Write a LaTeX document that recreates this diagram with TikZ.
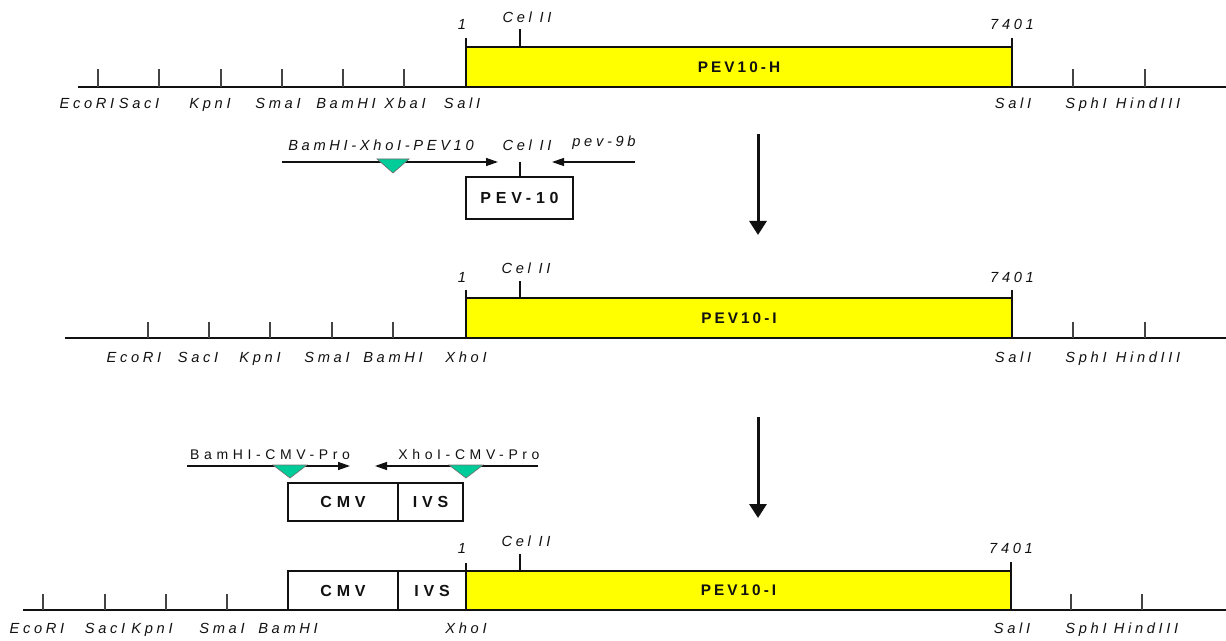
\documentclass[tikz,border=0pt]{standalone}
\usepackage{fontspec}
\setmainfont{Liberation Sans}
\usetikzlibrary{positioning,calc,arrows.meta}
\definecolor{gene}{HTML}{FFFF00}
\definecolor{tag}{HTML}{00CC99}
\definecolor{ink}{HTML}{111111}
\definecolor{tickgray}{HTML}{444444}
\newcommand{\Ya}{87}
\newcommand{\Yb}{338}
\newcommand{\Yc}{610}
\newcommand{\Xs}{466}
\newcommand{\Xe}{1012}
\newcommand{\Xc}{520}
\newcommand{\sitefont}{\fontsize{11}{13}\selectfont\itshape\addfontfeatures{LetterSpace=25}}
\newcommand{\boxfont}{\fontsize{12}{14}\selectfont\bfseries\addfontfeatures{LetterSpace=30}}
\newcommand{\genefont}{\fontsize{11.5}{14}\selectfont\bfseries\addfontfeatures{LetterSpace=20}}
\newcommand{\primfont}{\fontsize{10.5}{12}\selectfont\addfontfeatures{LetterSpace=33}}

\begin{document}
\begin{tikzpicture}[x=0.75pt,y=-0.75pt, every node/.style={text=ink, inner sep=0pt}, line width=1pt, >={Triangle[length=9pt,width=6pt]},
  mapline/.style={draw=ink},
  cut/.style={draw=tickgray},
  site/.style={font=\sitefont, anchor=base},
  genebox/.style={draw=ink, fill=gene},
  plainbox/.style={draw=ink, fill=white},
  boxlbl/.style={font=\boxfont},
  genelbl/.style={font=\genefont},
  tagmark/.style={draw=ink!60, line width=0.5pt, fill=tag},
  primer/.style={draw=ink, ->},
  bigarrow/.style={draw=ink, line width=2.25pt, -{Triangle[length=10.5pt,width=12.75pt]}}]
\useasboundingbox (0,0) rectangle (1226,641);
% ---- ROW 1: PEV10-H cloned between the two SalI sites
\coordinate (r1w) at (78,\Ya); \coordinate (r1e) at (1226,\Ya);
\draw[mapline] (r1w) -- (r1e);
\foreach \x in {98,159,221,282,343,404,1073,1145} { \draw[cut] (\x,\Ya) -- (\x,\Ya-18); }
\draw[genebox] (\Xs,47) rectangle node[genelbl] (pevh) {PEV10-H} (\Xe,\Ya);
\draw[ink] (\Xs,47) -- (\Xs,38);
\draw[ink] (\Xc,47) -- (\Xc,29);
\draw[ink] (\Xe,47) -- (\Xe,38);
\node[site] (one1) at (462,30) {1};
\node[site] (cel1) at (527,23) {Cel II};
\node[site] (end1) at (\Xe,30) {7401};
\foreach \x/\t in {87/EcoRI,139/SacI,210/KpnI,278/SmaI,346/BamHI,405/XbaI,462/SalI,1013/SalI,1086/SphI,1148/HindIII}
  { \node[site] (a\t) at (\x,109) {\t}; }
% ---- PCR step 1: primers round the 5' end of PEV10
\coordinate (p1s) at (282,162); \coordinate (p1e) at (498,162);
\coordinate (p2s) at (635,162); \coordinate (p2e) at (552,162);
\draw[primer] (p1s) -- (p1e);
\draw[primer] (p2s) -- (p2e);
\draw[tagmark] (377,159) -- (409,159) -- (393,173) -- cycle;
\node[site] (pbx) at (381,151) {BamHI-XhoI-PEV10};
\node[site] (p9b) at (604,147) {pev-9b};
\node[site] (celp) at (527,151) {Cel II};
\draw[plainbox] (\Xs,177) rectangle node[boxlbl] (pev10) {PEV-10} (573,219);
\draw[ink] (\Xc,162) -- (\Xc,177);
\draw[bigarrow] (758,134) -- (758,235);
% ---- ROW 2: PEV10-I, 5' SalI replaced by XhoI
\coordinate (r2w) at (65,\Yb); \coordinate (r2e) at (1226,\Yb);
\draw[mapline] (r2w) -- (r2e);
\foreach \x in {148,209,270,332,393,1073,1145} { \draw[cut] (\x,\Yb) -- (\x,\Yb-16); }
\draw[genebox] (\Xs,298) rectangle node[genelbl] (pevi) {PEV10-I} (\Xe,\Yb);
\draw[ink] (\Xs,298) -- (\Xs,290);
\draw[ink] (\Xc,298) -- (\Xc,281);
\draw[ink] (\Xe,298) -- (\Xe,290);
\node[site] (one2) at (462,282) {1};
\node[site] (cel2) at (526,273) {Cel II};
\node[site] (end2) at (\Xe,282) {7401};
\foreach \x/\t in {134/EcoRI,198/SacI,260/KpnI,327/SmaI,393/BamHI,466/XhoI,1013/SalI,1086/SphI,1148/HindIII}
  { \node[site] (b\t) at (\x,362) {\t}; }
% ---- PCR step 2: CMV promoter + IVS with BamHI / XhoI ends
\coordinate (c1s) at (187,466); \coordinate (c1e) at (350,466);
\coordinate (c2s) at (538,466); \coordinate (c2e) at (375,466);
\draw[primer] (c1s) -- (c1e);
\draw[primer] (c2s) -- (c2e);
\draw[tagmark] (273,465) -- (307,465) -- (290,478) -- cycle;
\draw[tagmark] (449,465) -- (483,465) -- (466,478) -- cycle;
\node[font=\primfont, anchor=base] (pcb) at (270,459) {BamHI-CMV-Pro};
\node[font=\primfont, anchor=base] (pcx) at (469,459) {XhoI-CMV-Pro};
\draw[plainbox] (288,483) rectangle node[boxlbl] (cmv1) {CMV} (398,521);
\draw[plainbox] (398,483) rectangle node[boxlbl] (ivs1) {IVS} (463,521);
\draw[bigarrow] (758,417) -- (758,518);
% ---- ROW 3: CMV-IVS inserted upstream of PEV10-I
\coordinate (r3w) at (23,\Yc); \coordinate (r3e) at (1226,\Yc);
\draw[mapline] (r3w) -- (r3e);
\foreach \x in {43,105,166,227,1071,1142} { \draw[cut] (\x,\Yc) -- (\x,\Yc-16); }
\draw[plainbox] (288,571) rectangle node[boxlbl] (cmv2) {CMV} (398,\Yc);
\draw[plainbox] (398,571) rectangle node[boxlbl] (ivs2) {IVS} (\Xs,\Yc);
\draw[genebox] (\Xs,571) rectangle node[genelbl] (pevi2) {PEV10-I} (1011,\Yc);
\draw[ink] (\Xs,571) -- (\Xs,563);
\draw[ink] (\Xc,571) -- (\Xc,554);
\draw[ink] (1011,571) -- (1011,562);
\node[site] (one3) at (462,553) {1};
\node[site] (cel3) at (526,546) {Cel II};
\node[site] (end3) at (1011,553) {7401};
\foreach \x/\t in {37/EcoRI,105/SacI,152/KpnI,222/SmaI,288/BamHI,466/XhoI,1012/SalI,1086/SphI,1146/HindIII}
  { \node[site] (c\t) at (\x,633) {\t}; }
\end{tikzpicture}
\end{document}
